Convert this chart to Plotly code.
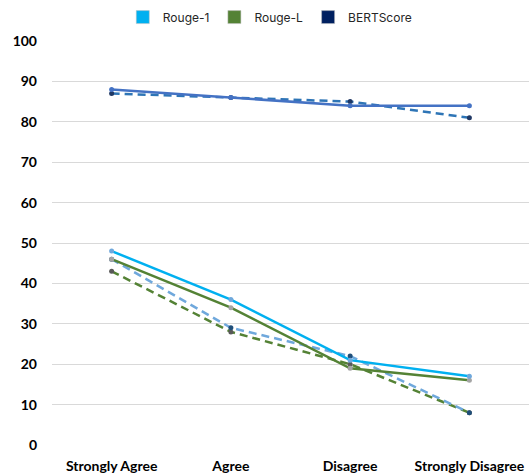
import plotly.graph_objects as go

categories = ["Strongly Agree", "Agree", "Disagree", "Strongly Disagree"]

# Solid lines
rouge1 = [48, 36, 21, 17]
rougeL = [46, 34, 19, 16]
bertscore = [88, 86, 84, 84]

# Dashed lines
rouge1_dashed = [46, 29, 22, 8]
rougeL_dashed = [43, 28, 20, 8]
bertscore_dashed = [87, 86, 85, 81]

y_ticks = [0, 10, 20, 30, 40, 50, 60, 70, 80, 90, 100]

fig = go.Figure()


def add_line(values, color, marker_color, dash):
    fig.add_trace(go.Scatter(
        x=categories, y=values, mode="lines+markers",
        line=dict(color=color, width=2.5, dash=dash),
        marker=dict(color=marker_color, size=5),
        showlegend=False, hoverinfo="skip",
    ))


add_line(bertscore_dashed, "#2E75B6", "#203864", "8px,5px")
add_line(bertscore, "#4472C4", "#4472C4", "solid")
add_line(rougeL_dashed, "#548235", "#595959", "8px,5px")
add_line(rouge1_dashed, "#6FA8DC", "#1F4E79", "8px,5px")
add_line(rougeL, "#548235", "#A5A5A5", "solid")
add_line(rouge1, "#00B0F0", "#6FA8DC", "solid")

# Legend entries
for name, color in [("Rouge-1", "#00B0F0"), ("Rouge-L", "#548235"), ("BERTScore", "#002060")]:
    fig.add_trace(go.Scatter(
        x=[None], y=[None], mode="markers", name=name,
        marker=dict(symbol="square", size=13, color=color,
                    line=dict(color="#BFBFBF", width=0.5)),
    ))

fig.update_layout(
    width=529, height=475,
    margin=dict(l=52, r=0, t=41, b=30),
    paper_bgcolor="white", plot_bgcolor="white",
    font=dict(family="Lato, Liberation Sans, sans-serif", color="#000000"),
    legend=dict(
        orientation="h", xref="container", yref="container",
        x=0.51, xanchor="center", y=0.964, yanchor="middle",
        font=dict(family="Inter, Liberation Sans, sans-serif", size=12, color="#262626"),
        itemwidth=30, traceorder="normal",
    ),
    xaxis=dict(
        type="category", categoryorder="array", categoryarray=categories,
        range=[-0.5, 3.5], showgrid=False, zeroline=False, showline=False,
        tickfont=dict(size=14, family="Lato, sans-serif", weight="bold"),
        ticklabelstandoff=11,
    ),
    yaxis=dict(
        range=[0, 100], tickvals=y_ticks, showgrid=True, gridcolor="#D9D9D9",
        gridwidth=1, zeroline=False, showline=False,
        tickfont=dict(size=14, family="Lato, sans-serif", weight="bold"),
        ticklabelstandoff=14,
    ),
)

fig.write_html("out.html")
